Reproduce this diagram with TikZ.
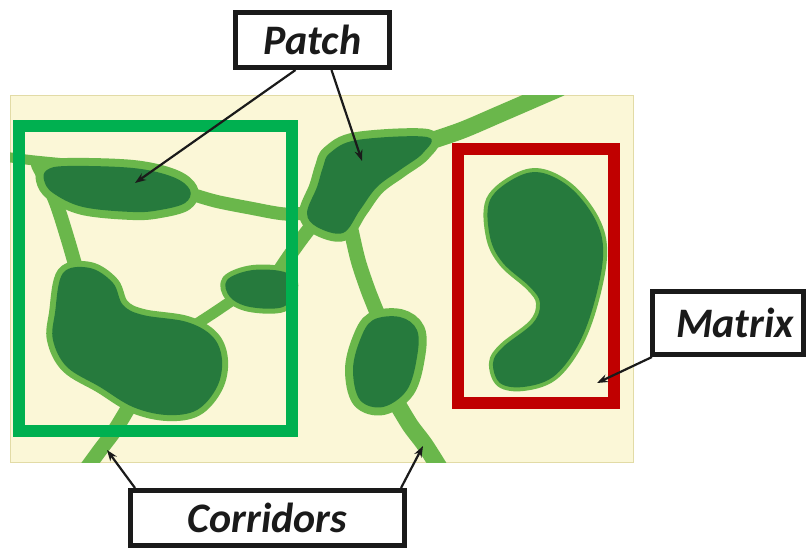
\documentclass[tikz,border=0pt]{standalone}
\usepackage{fontspec}
\setmainfont{Carlito}
\usetikzlibrary{arrows.meta,calc}
\definecolor{cream}{HTML}{FBF7D7}
\definecolor{creamedge}{HTML}{E2DBA6}
\definecolor{lgreen}{HTML}{6AB74B}
\definecolor{dgreen}{HTML}{267A3D}
\definecolor{boxgreen}{HTML}{00B050}
\definecolor{boxred}{HTML}{C00000}
\definecolor{ink}{HTML}{1A1A1A}
\tikzset{
  corridor/.style={draw=lgreen, line cap=round, line join=round},
  halo/.style={fill=lgreen, draw=lgreen, line join=round},
  patchfill/.style={fill=dgreen},
  labelbox/.style={draw=ink, line width=5pt, fill=white, inner sep=0pt,
    font=\fontsize{42}{50}\selectfont\bfseries\itshape, text=ink},
  arr/.style={draw=ink, line width=2.2pt, -{Stealth[length=11pt,width=8pt]}},
}
\def\shpA{plot[smooth cycle, tension=0.6] coordinates {(47,170) (67,166) (133,168) (173,177) (190,190) (185,203) (160,210) (133,212) (83,207) (53,193) (44,180)}}
\def\shpB{plot[smooth cycle, tension=0.6] coordinates {(63,273) (90,268) (113,283) (123,305) (143,315) (187,322) (213,337) (222,360) (217,387) (197,410) (167,415) (133,407) (100,387) (67,367) (53,340) (55,313)}}
\def\shpC{plot[smooth cycle, tension=0.6] coordinates {(227,280) (253,270) (287,273) (293,290) (283,307) (250,307) (230,297)}}
\def\shpD{plot[smooth cycle, tension=0.6] coordinates {(330,153) (357,140) (427,137) (423,153) (400,170) (377,187) (360,210) (343,233) (317,227) (307,213) (317,187) (323,167)}}
\def\shpE{plot[smooth cycle, tension=0.6] coordinates {(373,320) (400,317) (417,330) (417,357) (407,390) (383,407) (360,400) (353,370) (360,340)}}
\def\shpF{plot[smooth cycle, tension=0.6] coordinates {(490,200) (517,177) (543,173) (573,190) (597,223) (603,257) (593,307) (577,347) (553,377) (523,387) (500,383) (493,363) (503,347) (533,323) (540,303) (530,287) (503,263) (490,237)}}
\begin{document}
\begin{tikzpicture}[x=1pt, y=-1pt]
\useasboundingbox (0,0) rectangle (806,550);
% background landscape
\path[fill=cream, draw=creamedge, line width=1pt] (10,95) rectangle (633,462);
\begin{scope}
  \clip (10,95) rectangle (633,462);
  % corridors
  \draw[corridor, line width=10pt] plot[smooth] coordinates {(0,156) (30,160) (60,163)};
  \draw[corridor, line width=14pt] plot[smooth] coordinates {(38,165) (55,200) (68,240) (78,275)};
  \draw[corridor, line width=13pt] plot[smooth] coordinates {(185,192) (215,201) (250,208) (285,214) (315,212)};
  \draw[corridor, line width=11pt] plot[smooth] coordinates {(195,325) (215,312) (240,295)};
  \draw[corridor, line width=14pt] plot[smooth] coordinates {(270,285) (290,255) (310,228) (325,215)};
  \draw[corridor, line width=17pt] plot[smooth] coordinates {(415,146) (460,131) (500,114) (560,88)};
  \draw[corridor, line width=15pt] plot[smooth] coordinates {(350,225) (358,260) (368,290) (378,315)};
  \draw[corridor, line width=17pt] plot[smooth] coordinates {(395,400) (410,425) (425,445) (442,472)};
  \draw[corridor, line width=15pt] plot[smooth] coordinates {(130,405) (115,430) (100,450) (84,472)};
  % patch halos
  \path[halo, line width=16pt] \shpA;
  \path[halo, line width=12pt] \shpB;
  \path[halo, line width=10pt] \shpC;
  \path[halo, line width=16pt] \shpD;
  \path[halo, line width=16pt] \shpE;
  \path[halo, line width=8pt] \shpF;
  % patches
  \path[patchfill] \shpA;
  \path[patchfill] \shpB;
  \path[patchfill] \shpC;
  \path[patchfill] \shpD;
  \path[patchfill] \shpE;
  \path[patchfill] \shpF;
\end{scope}
% highlight frames
\draw[boxgreen, line width=12pt] (19,126) rectangle (292,431);
\draw[boxred, line width=12pt] (458,148.5) rectangle (614,403);
% label boxes
\node[labelbox, minimum width=154pt, minimum height=55pt] (patch) at (312.5,40) {Patch};
\node[labelbox, minimum width=151pt, minimum height=63pt] (matrix) at (728,323) {\hspace{14pt}Matrix};
\node[labelbox, minimum width=274pt, minimum height=55pt] (corr) at (267.5,518) {Corridors};
% arrow targets
\coordinate (tA) at (135,183);
\coordinate (tB) at (362,161);
\coordinate (tC) at (597,383);
\coordinate (tD) at (107,450);
\coordinate (tE) at (423,446);
% arrows
\draw[arr] ([xshift=-17pt]patch.south) -- (tA);
\draw[arr] ([xshift=19pt]patch.south) -- (tB);
\draw[arr] ([xshift=2pt]matrix.south west) -- (tC);
\draw[arr] ([xshift=7pt]corr.north west) -- (tD);
\draw[arr] ([xshift=-6pt]corr.north east) -- (tE);
\end{tikzpicture}
\end{document}
